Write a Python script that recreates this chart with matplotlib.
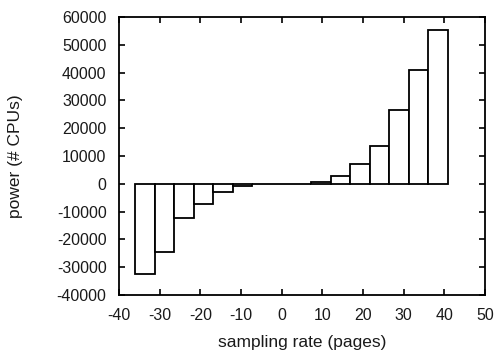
import matplotlib
matplotlib.use("Agg")
import matplotlib.pyplot as plt

# bar centres (sampling rate, pages) and heights (power, # CPUs)
rates = [-33.6, -28.8, -24.0, -19.2, -14.4, -9.6, -4.8, 0.0,
         4.8, 9.6, 14.4, 19.2, 24.0, 28.8, 33.6, 38.4]
power = [-32500, -24500, -12400, -7200, -2900, -600, -100, 0,
         100, 500, 2800, 7100, 13600, 26600, 40900, 55300]
bar_width = 4.8

x_ticks = [-40, -30, -20, -10, 0, 10, 20, 30, 40, 50]
y_ticks = [-40000, -30000, -20000, -10000, 0, 10000, 20000, 30000, 40000, 50000, 60000]

plt.rcParams["font.family"] = ["Liberation Sans", "DejaVu Sans"]
text_color = "#1a1a1a"

fig = plt.figure(figsize=(4.98, 3.53), dpi=100)
ax = fig.add_axes([0.239, 0.164, 0.735, 0.788])

ax.bar(rates, power, width=bar_width, facecolor="white", edgecolor="black",
       linewidth=1.3, align="center")

ax.set_xlim(-40, 50)
ax.set_ylim(-40000, 60000)
ax.set_xticks(x_ticks)
ax.set_yticks(y_ticks)
ax.set_xticklabels([str(t) for t in x_ticks])
ax.set_yticklabels([str(t) for t in y_ticks])

ax.tick_params(direction="in", length=4, width=1.2, top=True, right=True,
               labelsize=11.5, labelcolor=text_color)
ax.tick_params(axis="y", pad=9)
ax.tick_params(axis="x", pad=9)
for s in ax.spines.values():
    s.set_linewidth(1.3)

ax.set_xlabel("sampling rate (pages)", fontsize=12.5, color=text_color)
ax.set_ylabel("power (# CPUs)", fontsize=12.5, color=text_color)
ax.xaxis.set_label_coords(0.5, -0.145)
ax.yaxis.set_label_coords(-0.262, 0.5)

fig.savefig("out.png", dpi=100)
